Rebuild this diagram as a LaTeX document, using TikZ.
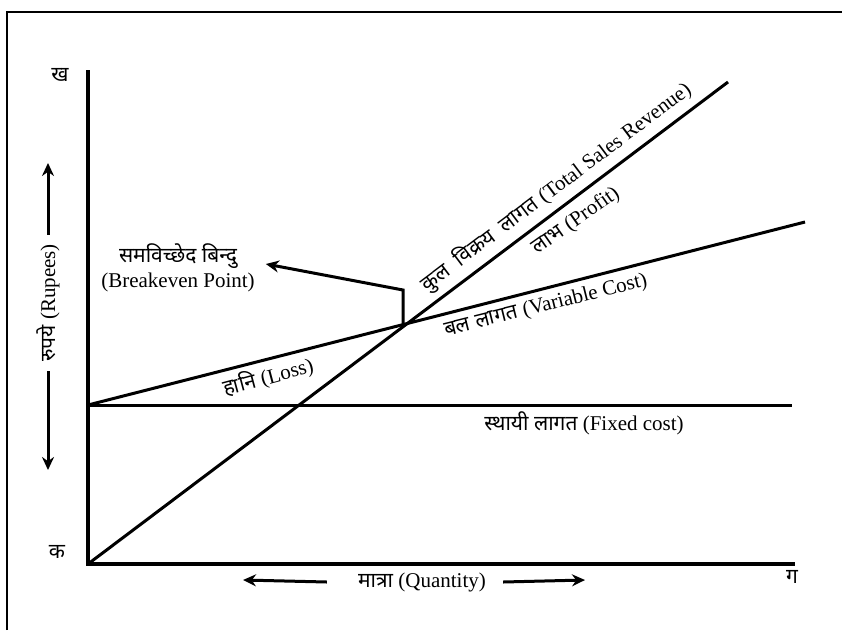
\documentclass[tikz,border=0pt]{standalone}
\usepackage{fontspec}
\setmainfont{Liberation Serif}
\newfontfamily\hindi[Script=Devanagari]{Noto Sans}
\usetikzlibrary{arrows.meta}

\begin{document}
\begin{tikzpicture}[x=1pt, y=-1pt,
    every node/.style={font=\fontsize{21}{25}\selectfont, inner sep=1pt},
    axis/.style={line width=4pt},
    costline/.style={line width=3pt},
    pointer/.style={line width=3pt, -{Stealth[length=13pt,width=12pt]}},
    frame/.style={line width=1.5pt},
]
\useasboundingbox (0,0) rectangle (842,630);

% Frame
\coordinate (fbl) at (7,630);
\coordinate (ftl) at (7,12);
\coordinate (ftr) at (842,12);
\draw[frame] (fbl) -- (ftl) -- (ftr);

% Axes
\coordinate (O) at (88,564);
\coordinate (ytop) at (88,70);
\coordinate (xend) at (795,564);
\draw[axis] (ytop) -- (O) -- (xend);
\node (kha) at (60,75) {\hindi ख};
\node (ka) at (57,552) {\hindi क};
\node (ga) at (792,577) {\hindi ग};

% Cost and revenue lines
\coordinate (fc0) at (88,405);
\coordinate (fc1) at (792,405);
\coordinate (vc1) at (805,222);
\coordinate (tsr) at (728,82);
\coordinate (bep) at (403,326);
\draw[costline] (fc0) -- (fc1);
\draw[costline] (fc0) -- (vc1);
\draw[costline] (O) -- (tsr);

% Line labels
\node[rotate=37] (tsrlbl) at (556,187) {{\hindi कुल\ \ विक्रय\ \ लागत} (Total Sales Revenue)};
\node[rotate=35] (profit) at (576,221) {{\hindi लाभ} (Profit)};
\node[rotate=14] (vclbl) at (546,306) {{\hindi बल लागत} (Variable Cost)};
\node[rotate=15] (loss) at (268,377) {{\hindi हानि} (Loss)};
\node (fclbl) at (584,423) {{\hindi स्थायी लागत} (Fixed cost)};

% Breakeven point
\node[align=center] (beplbl) at (178,268) {\hindi समविच्छेद बिन्दु\\(Breakeven Point)};
\coordinate (bepc) at (403,290);
\draw[pointer] (bep) -- (bepc) -- ([xshift=10pt,yshift=4pt]beplbl.east);

% Axis titles
\node[rotate=90] (ylbl) at (48,303) {{\hindi रुपये} (Rupees)};
\coordinate (yup) at (0,163);
\coordinate (ydown) at (0,470);
\draw[pointer] ([yshift=8pt]ylbl.east) -- (ylbl.east |- yup);
\draw[pointer] ([yshift=-8pt]ylbl.west) -- (ylbl.west |- ydown);
\node (xlbl) at (422,582) {{\hindi मात्रा} (Quantity)};
\draw[pointer] ([xshift=-30pt]xlbl.west) -- (243,580);
\draw[pointer] ([xshift=16pt]xlbl.east) -- (585,580);
\end{tikzpicture}
\end{document}
